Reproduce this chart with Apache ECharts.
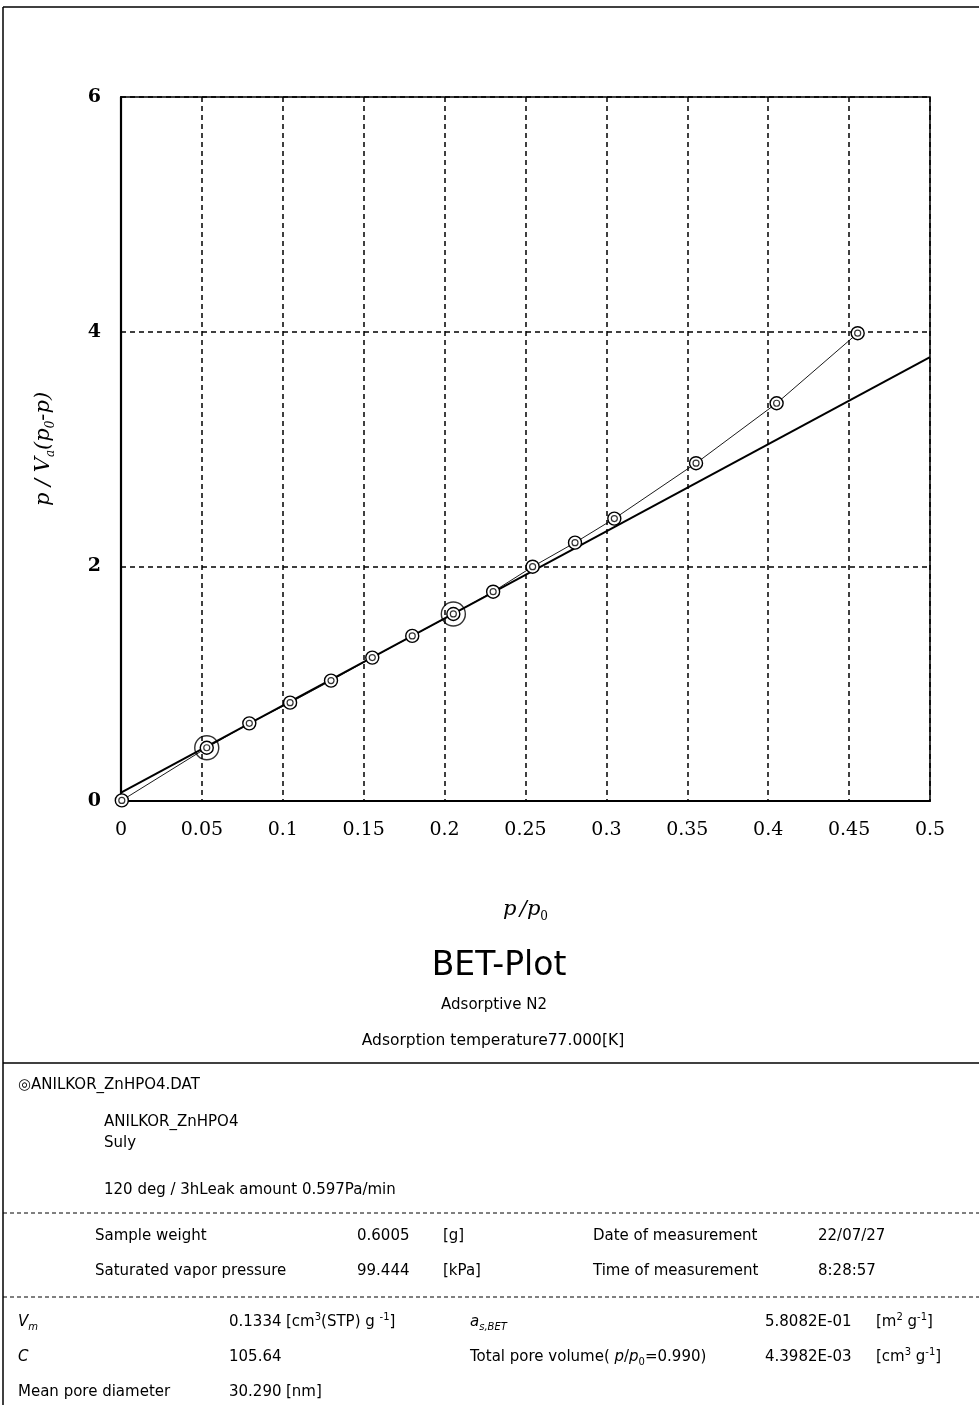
<!DOCTYPE html>
<html>
<head>
<meta charset="utf-8">
<script src="https://cdn.jsdelivr.net/npm/echarts@6/dist/echarts.min.js"></script>
<style>
  html, body { margin: 0; padding: 0; background: #fff; }
  #chart { width: 979px; height: 1405px; }
</style>
</head>
<body>
<div id="chart"></div>
<script>
// ---- Data ----
const relPressure = [0.0005, 0.053, 0.0793, 0.1045, 0.1298, 0.1553, 0.1800, 0.2054, 0.2300, 0.2544, 0.2806, 0.3049, 0.3554, 0.4052, 0.4553];
const betValue    = [0.005, 0.454, 0.662, 0.838, 1.026, 1.222, 1.407, 1.594, 1.784, 1.997, 2.202, 2.407, 2.879, 3.390, 3.987];
// points that bound the fitting range (drawn with large rings)
const fitRangeP = [0.053, 0.2054];
const fitRangeV = [0.454, 1.594];
// BET straight line end points
const fitLineP = [0, 0.5];
const fitLineV = [0.071, 3.784];

const xTickMin = 0, xTickMax = 0.5, xTickStep = 0.05;
const yTickMin = 0, yTickMax = 6, yTickStep = 2;

const pair = (xs, ys) => xs.map((x, i) => [x, ys[i]]);

const chart = echarts.init(document.getElementById('chart'), null, { renderer: 'canvas' });

const SANS = "'DejaVu Sans', Verdana, sans-serif";
const SERIF = "'DejaVu Serif', 'Liberation Serif', serif";
const TXT = 15;

const richBlock = {
  it: { fontFamily: SANS, fontSize: TXT, fontStyle: 'italic', lineHeight: 20 },
  n: { fontFamily: SANS, fontSize: TXT, lineHeight: 20 },
  sub: { fontFamily: SANS, fontSize: 10, fontStyle: 'italic', lineHeight: 10, verticalAlign: 'bottom' },
  subn: { fontFamily: SANS, fontSize: 10, lineHeight: 10, verticalAlign: 'bottom' },
  sup: { fontFamily: SANS, fontSize: 10, lineHeight: 10, verticalAlign: 'top' }
};

function t(x, y, text, extra) {
  return {
    type: 'text', x: x, y: y, silent: true,
    style: Object.assign({
      text: text, fontFamily: SANS, fontSize: TXT, fill: '#000',
      align: 'left', verticalAlign: 'middle', rich: richBlock
    }, extra || {})
  };
}
function hline(y, x1, x2, dashed, w) {
  return {
    type: 'line', silent: true,
    shape: { x1: x1, y1: y, x2: x2, y2: y },
    style: { stroke: '#000', lineWidth: w || 1, lineDash: dashed ? [4, 3] : null }
  };
}

const option = {
  backgroundColor: '#fff',
  animation: false,
  grid: { left: 121, right: 49, top: 97, bottom: 604, show: true, borderColor: '#000', borderWidth: 1.5, backgroundColor: 'transparent' },
  xAxis: {
    type: 'value', min: xTickMin, max: xTickMax, interval: xTickStep,
    axisLine: { show: true, lineStyle: { color: '#000', width: 2 } },
    axisTick: { show: false },
    axisLabel: {
      color: '#000', fontFamily: SERIF, fontSize: 19, margin: 20,
      formatter: v => String(parseFloat(v.toFixed(2)))
    },
    splitLine: { show: true, lineStyle: { color: '#000', type: [5, 4], width: 1.5 } },
    name: '{i|p} {i|/p}{sub|0}',
    nameLocation: 'middle', nameGap: 96,
    nameTextStyle: {
      rich: {
        i: { fontFamily: SERIF, fontSize: 21, fontStyle: 'italic', lineHeight: 26 },
        sub: { fontFamily: SERIF, fontSize: 12, lineHeight: 14, verticalAlign: 'bottom' }
      }
    }
  },
  yAxis: {
    type: 'value', min: yTickMin, max: yTickMax, interval: yTickStep,
    axisLine: { show: true, lineStyle: { color: '#000', width: 2.2 } },
    axisTick: { show: false },
    axisLabel: { color: '#000', fontFamily: SERIF, fontSize: 19, fontWeight: 'bold', margin: 20 },
    splitLine: { show: true, lineStyle: { color: '#000', type: [5, 4], width: 1.5 } },
    name: '{i|p / V}{sub|a}{i|(p}{sub|0}{i|-p)}',
    nameLocation: 'middle', nameGap: 64, nameRotate: 90,
    nameTextStyle: {
      rich: {
        i: { fontFamily: SERIF, fontSize: 21, fontStyle: 'italic', lineHeight: 26 },
        sub: { fontFamily: SERIF, fontSize: 12, fontStyle: 'italic', lineHeight: 14, verticalAlign: 'bottom' }
      }
    }
  },
  series: [
    {
      name: 'BET line', type: 'line', data: pair(fitLineP, fitLineV),
      showSymbol: false, lineStyle: { color: '#000', width: 2 }, z: 3
    },
    {
      name: 'Fit range', type: 'scatter', data: pair(fitRangeP, fitRangeV),
      symbol: 'circle', symbolSize: 24,
      itemStyle: { color: 'rgba(0,0,0,0)', borderColor: '#000', borderWidth: 1.4 }, z: 4
    },
    {
      name: 'Measured', type: 'line', data: pair(relPressure, betValue),
      symbol: 'circle', symbolSize: 13, showSymbol: true,
      lineStyle: { color: '#000', width: 0.9 },
      itemStyle: { color: '#fff', borderColor: '#000', borderWidth: 1.4 }, z: 5
    },
    {
      name: 'Measured inner', type: 'scatter', data: pair(relPressure, betValue),
      symbol: 'circle', symbolSize: 6,
      itemStyle: { color: 'rgba(0,0,0,0)', borderColor: '#000', borderWidth: 1.2 }, z: 6
    }
  ],
  graphic: [
    // outer frame
    hline(7, 3, 979, false, 1.5),
    { type: 'line', silent: true, shape: { x1: 3, y1: 7, x2: 3, y2: 1405 }, style: { stroke: '#000', lineWidth: 1.5 } },
    hline(1063, 3, 979, false, 1.5),
    hline(1213, 3, 979, true, 1),
    hline(1297, 3, 979, true, 1),
    // titles
    t(499, 966, 'BET-Plot', { align: 'center', fontSize: 33 }),
    t(494, 1005, 'Adsorptive N2', { align: 'center', fontSize: 15 }),
    t(493, 1041, 'Adsorption temperature77.000[K]', { align: 'center', fontSize: 15.5 }),
    // sample block
    t(18, 1085, '\u25CEANILKOR_ZnHPO4.DAT'),
    t(104, 1122, 'ANILKOR_ZnHPO4'),
    t(104, 1143, 'Suly'),
    t(104, 1190, '120 deg / 3hLeak amount 0.597Pa/min'),
    t(95, 1236, 'Sample weight'),
    t(357, 1236, '0.6005'),
    t(443, 1236, '[g]'),
    t(593, 1236, 'Date of measurement'),
    t(818, 1236, '22/07/27'),
    t(95, 1271, 'Saturated vapor pressure'),
    t(357, 1271, '99.444'),
    t(443, 1271, '[kPa]'),
    t(593, 1271, 'Time of measurement'),
    t(818, 1271, '8:28:57'),
    // results block
    t(18, 1322, '{it|V}{sub|m}'),
    t(229, 1322, '0.1334'),
    t(286, 1322, '{n|[cm}{sup|3}{n|(STP) g }{sup|-1}{n|]}'),
    t(470, 1322, '{it|a}{sub|s,BET}'),
    t(765, 1322, '5.8082E-01'),
    t(876, 1322, '{n|[m}{sup|2}{n| g}{sup|-1}{n|]}'),
    t(18, 1357, '{it|C}'),
    t(229, 1357, '105.64'),
    t(470, 1357, '{n|Total pore volume( }{it|p}{n|/}{it|p}{subn|0}{n|=0.990)}'),
    t(765, 1357, '4.3982E-03'),
    t(876, 1357, '{n|[cm}{sup|3}{n| g}{sup|-1}{n|]}'),
    t(18, 1392, 'Mean pore diameter'),
    t(229, 1392, '30.290'),
    t(286, 1392, '[nm]')
  ]
};

chart.setOption(option);
</script>
</body>
</html>
